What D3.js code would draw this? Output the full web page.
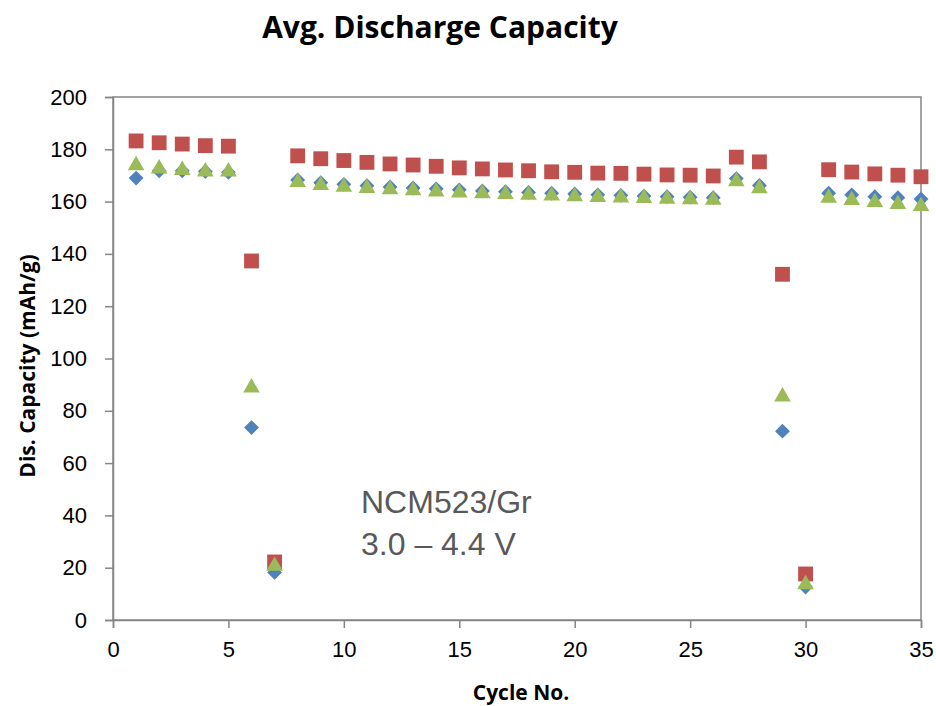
<!DOCTYPE html>
<html>
<head>
<meta charset="utf-8">
<script src="https://cdn.jsdelivr.net/npm/d3@7"></script>
<style>
  body { margin: 0; background: #fff; }
</style>
</head>
<body>
<div id="chart-area"></div>
<script>
// cycle numbers
const cycles = d3.range(1, 36);

// avg. discharge capacity per cycle (mAh/g)
const blueCap = [169.0, 171.8, 171.8, 171.5, 171.2, 73.6, 18.2, 168.3, 167.2, 166.6, 166.1, 165.6, 165.2, 164.9, 164.5, 164.1, 163.8, 163.5, 163.2, 162.9, 162.6, 162.4, 162.1, 161.9, 161.7, 161.5, 168.8, 166.2, 72.2, 12.6, 163.2, 162.6, 161.9, 161.5, 161.0];
const redCap = [183.2, 182.5, 182.0, 181.4, 181.2, 137.3, 22.2, 177.5, 176.4, 175.7, 175.0, 174.4, 174.0, 173.5, 172.9, 172.5, 172.1, 171.8, 171.4, 171.2, 170.9, 170.8, 170.5, 170.2, 170.1, 169.8, 177.0, 175.2, 132.2, 17.6, 172.2, 171.3, 170.6, 170.1, 169.5];
const greenCap = [174.4, 173.2, 172.6, 172.0, 172.0, 89.4, 21.2, 168.0, 166.8, 166.2, 165.7, 165.2, 164.8, 164.4, 164.0, 163.7, 163.4, 163.1, 162.8, 162.5, 162.3, 162.1, 161.9, 161.6, 161.4, 161.2, 168.3, 165.6, 86.0, 14.2, 162.0, 161.1, 160.3, 159.6, 158.8];

const xTicks = [0, 5, 10, 15, 20, 25, 30, 35];
const yTicks = [0, 20, 40, 60, 80, 100, 120, 140, 160, 180, 200];

const width = 936, height = 706;
const margin = {left: 113, right: 15, top: 97, bottom: 86};

const svg = d3.select("#chart-area")
    .append("svg")
    .attr("width", width)
    .attr("height", height);

const x = d3.scaleLinear().domain([0, 35]).range([margin.left, width - margin.right]);
const y = d3.scaleLinear().domain([0, 200]).range([height - margin.bottom, margin.top]);

const axisColor = "#868686";

// plot frame
svg.append("rect")
    .attr("x", x(0))
    .attr("y", y(200))
    .attr("width", x(35) - x(0))
    .attr("height", y(0) - y(200))
    .attr("fill", "none")
    .attr("stroke", axisColor)
    .attr("stroke-width", 1.5);

const xAxis = svg.append("g")
    .attr("transform", `translate(0,${y(0)})`)
    .call(d3.axisBottom(x).tickValues(xTicks).tickSize(8).tickPadding(13));

const yAxis = svg.append("g")
    .attr("transform", `translate(${x(0)},0)`)
    .call(d3.axisLeft(y).tickValues(yTicks).tickSize(8).tickPadding(18));

[xAxis, yAxis].forEach(a => {
    a.selectAll("path, line").attr("stroke", axisColor).attr("stroke-width", 1.5);
    a.selectAll("text")
        .attr("fill", "#000")
        .style("font-family", "'Liberation Sans', Arial, sans-serif")
        .style("font-size", "22px");
});

// series: blue diamonds, red squares, green triangles (green drawn on top)
const series = [
    {values: blueCap, color: "#4F81BD", shape: d3.symbolDiamond2, size: 140},
    {values: redCap, color: "#C0504D", shape: d3.symbolSquare, size: 220},
    {values: greenCap, color: "#9BBB59", shape: d3.symbolTriangle, size: 120}
];

series.forEach(s => {
    svg.append("g")
        .selectAll("path")
        .data(cycles)
        .join("path")
        .attr("d", d3.symbol().type(s.shape).size(s.size))
        .attr("transform", (c, i) => {
            const dy = s.shape === d3.symbolTriangle ? 1.5 : 0;
            return `translate(${x(c)},${y(s.values[i]) + dy})`;
        })
        .attr("fill", s.color);
});

// title
svg.append("text")
    .attr("x", 440)
    .attr("y", 38)
    .attr("text-anchor", "middle")
    .style("font-family", "'Open Sans', 'Liberation Sans', sans-serif")
    .style("font-weight", "bold")
    .style("font-size", "30px")
    .text("Avg. Discharge Capacity");

// axis titles
svg.append("text")
    .attr("x", (x(0) + x(35)) / 2 + 4)
    .attr("y", 700)
    .attr("text-anchor", "middle")
    .style("font-family", "'Open Sans', 'Liberation Sans', sans-serif")
    .style("font-weight", "bold")
    .style("font-size", "21px")
    .text("Cycle No.");

svg.append("text")
    .attr("transform", `translate(35,366) rotate(-90)`)
    .attr("text-anchor", "middle")
    .style("font-family", "'Open Sans', 'Liberation Sans', sans-serif")
    .style("font-weight", "bold")
    .style("font-size", "21px")
    .text("Dis. Capacity (mAh/g)");

// annotation
const note = svg.append("text")
    .style("font-family", "'Liberation Sans', Arial, sans-serif")
    .style("font-size", "32px")
    .attr("fill", "#595959");
note.append("tspan").attr("x", 361).attr("y", 513).text("NCM523/Gr");
note.append("tspan").attr("x", 361).attr("y", 555).text("3.0 – 4.4 V");
</script>
</body>
</html>
